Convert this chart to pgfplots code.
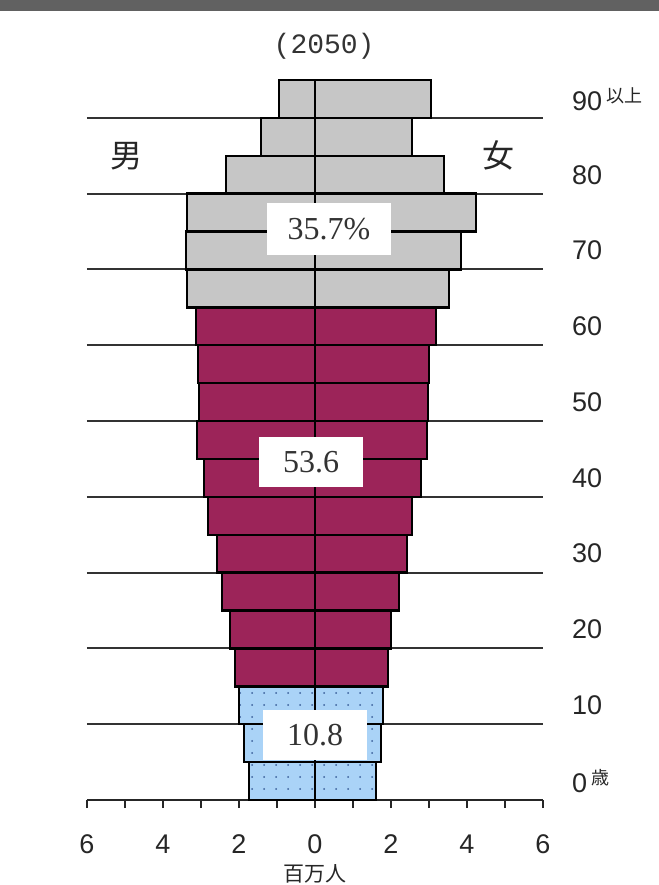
\documentclass[border=0pt]{standalone}
\usepackage{fontspec}
\setmainfont{Liberation Sans}
\newfontfamily\cjk{Noto Sans CJK JP}
\newfontfamily\serif{Liberation Serif}
\newfontfamily\mono{Liberation Mono}
\usepackage{pgfplots}
\pgfplotsset{compat=1.18}
\usetikzlibrary{patterns.meta}

\definecolor{oldgray}{HTML}{C6C6C6}
\definecolor{workred}{HTML}{9C2459}
\definecolor{kidblue}{HTML}{AAD3F7}
\definecolor{dotblue}{HTML}{3A5F9A}

\pgfplotsset{
  pyr/.style={xbar, bar width=1, bar shift=0pt, draw=black, line width=1.2pt},
}

\begin{document}
\begin{tikzpicture}
\begin{axis}[
  scale only axis,
  width=228pt, height=360pt,
  xmin=-6, xmax=6, ymin=0, ymax=19,
  clip=false,
  axis x line*=bottom,
  axis y line*=right,
  y axis line style={draw=none},
  x axis line style={line width=1pt, black!85, -},
  tick align=outside,
  major tick length=4pt,
  xtick={-6,-5,...,6},
  xticklabels={6,,4,,2,,0,,2,,4,,6},
  xtick style={line width=1pt, black!85},
  xticklabel style={yshift=-10pt, text=black!85},
  ytick={0.5,2.5,4.5,6.5,8.5,10.5,12.5,14.5,16.5,18.5},
  yticklabels={0\,\raisebox{4pt}{\cjk\fontsize{9}{9}\selectfont 歳},10,20,30,40,50,60,70,80,90\,\raisebox{4pt}{\cjk\fontsize{9}{9}\selectfont 以上}},
  ytick style={draw=none},
  yticklabel style={anchor=west, xshift=7pt, text=black!85},
  ticklabel style={font=\fontsize{13.5}{14}\selectfont},
  extra y ticks={2,4,6,8,10,12,14,16,18},
  extra y tick labels={},
  extra y tick style={grid=major, major grid style={line width=1pt, black!80}, tick style={draw=none}},
]
% ages 0-14, male (negative) and female, millions
\addplot[pyr, fill=kidblue, postaction={pattern={Dots[distance=6pt,radius=0.5pt]}, pattern color=dotblue}]
  coordinates {(-1.74,0.5) (-1.87,1.5) (-2.00,2.5)};
\addplot[pyr, fill=kidblue, postaction={pattern={Dots[distance=6pt,radius=0.5pt]}, pattern color=dotblue}]
  coordinates {(1.61,0.5) (1.74,1.5) (1.79,2.5)};
% ages 15-64
\addplot[pyr, fill=workred]
  coordinates {(-2.10,3.5) (-2.24,4.5) (-2.45,5.5) (-2.58,6.5) (-2.82,7.5)
               (-2.92,8.5) (-3.10,9.5) (-3.05,10.5) (-3.08,11.5) (-3.13,12.5)};
\addplot[pyr, fill=workred]
  coordinates {(1.92,3.5) (2.00,4.5) (2.21,5.5) (2.42,6.5) (2.55,7.5)
               (2.79,8.5) (2.95,9.5) (2.97,10.5) (3.00,11.5) (3.18,12.5)};
% ages 65+
\addplot[pyr, fill=oldgray]
  coordinates {(-3.37,13.5) (-3.39,14.5) (-3.37,15.5) (-2.34,16.5) (-1.42,17.5) (-0.95,18.5)};
\addplot[pyr, fill=oldgray]
  coordinates {(3.53,13.5) (3.84,14.5) (4.24,15.5) (3.39,16.5) (2.55,17.5) (3.05,18.5)};

\node[font=\cjk\fontsize{16}{16}\selectfont, text=black!85] at (axis cs:-4.97,17.0) {男};
\node[font=\cjk\fontsize{16}{16}\selectfont, text=black!85] at (axis cs:4.84,17.0) {女};
\node[fill=white, minimum width=62pt, minimum height=26pt, inner sep=0pt,
      font=\serif\fontsize{16}{16}\selectfont, text=black!80] at (axis cs:0.37,15.07) {35.7\%};
\node[fill=white, minimum width=52pt, minimum height=25pt, inner sep=0pt,
      font=\serif\fontsize{16}{16}\selectfont, text=black!80] at (axis cs:-0.1,8.92) {53.6};
\node[fill=white, minimum width=52pt, minimum height=25pt, inner sep=0pt,
      font=\serif\fontsize{16}{16}\selectfont, text=black!80] at (axis cs:0,1.71) {10.8};
\node[font=\mono\fontsize{14}{14}\selectfont, text=black!80] at (axis cs:0.24,19.9) {(2050)};
\node[font=\cjk\fontsize{10.5}{10.5}\selectfont, anchor=south, inner sep=0pt, text=black!85] at (axis cs:0,-2.2) {百万人};
\end{axis}
\pgfresetboundingbox
\useasboundingbox (-43.5pt,-42.5pt) rectangle (286pt,400pt);
\fill[black!62] (-43.5pt,400pt) rectangle (286pt,394.5pt);
\end{tikzpicture}
\end{document}
